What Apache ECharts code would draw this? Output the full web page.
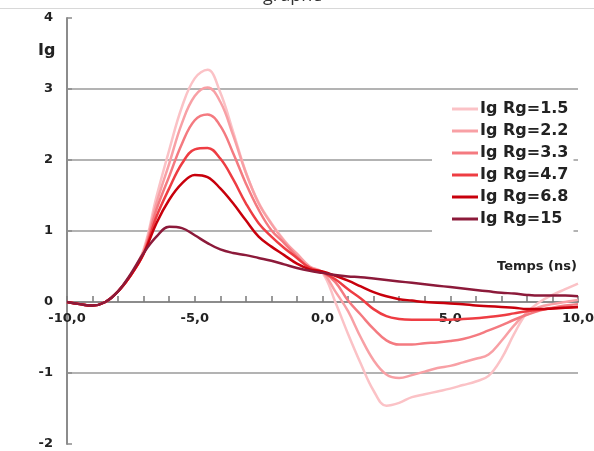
<!DOCTYPE html>
<html>
<head>
<meta charset="utf-8">
<script src="https://cdn.jsdelivr.net/npm/echarts@6/dist/echarts.min.js"></script>
<style>html,body{margin:0;padding:0;background:#fff}#c{width:594px;height:451px}</style>
</head>
<body>
<div id="c"></div>
<script>
const times = [-10,-9.5,-9,-8.5,-8,-7.5,-7,-6.5,-6,-5.5,-5,-4.5,-4,-3.5,-3,-2.5,-2,-1.5,-1,-0.5,0,0.5,1,1.5,2,2.5,3,3.5,4,4.5,5,5.5,6,6.5,7,7.5,8,8.5,9,9.5,10];
const seriesNames = ['Ig Rg=1.5','Ig Rg=2.2','Ig Rg=3.3','Ig Rg=4.7','Ig Rg=6.8','Ig Rg=15'];
const rg1_5 = [0,-0.03,-0.05,0,0.15,0.38,0.74,1.48,2.14,2.75,3.15,3.27,2.95,2.4,1.83,1.4,1.11,0.87,0.66,0.48,0.41,0.0,-0.45,-0.87,-1.25,-1.46,-1.42,-1.34,-1.3,-1.26,-1.22,-1.17,-1.12,-1.04,-0.8,-0.45,-0.15,0.0,0.1,0.18,0.26];
const rg2_2 = [0,-0.03,-0.05,0,0.15,0.38,0.72,1.39,1.95,2.52,2.9,3.02,2.82,2.35,1.82,1.39,1.1,0.86,0.68,0.5,0.42,0.15,-0.13,-0.5,-0.82,-1.02,-1.07,-1.03,-0.98,-0.93,-0.9,-0.85,-0.8,-0.74,-0.55,-0.33,-0.15,-0.07,-0.03,0.0,0.03];
const rg3_3 = [0,-0.03,-0.05,0,0.15,0.38,0.7,1.3,1.77,2.23,2.56,2.64,2.48,2.1,1.67,1.3,1.01,0.83,0.64,0.48,0.42,0.28,0.02,-0.18,-0.38,-0.54,-0.6,-0.6,-0.58,-0.57,-0.55,-0.52,-0.47,-0.4,-0.33,-0.25,-0.18,-0.12,-0.08,-0.05,-0.03];
const rg4_7 = [0,-0.03,-0.05,0,0.15,0.38,0.68,1.2,1.6,1.95,2.15,2.17,2.02,1.73,1.39,1.11,0.92,0.76,0.62,0.48,0.42,0.32,0.18,0.05,-0.1,-0.2,-0.24,-0.25,-0.25,-0.25,-0.25,-0.24,-0.23,-0.21,-0.19,-0.16,-0.13,-0.11,-0.09,-0.08,-0.07];
const rg6_8 = [0,-0.03,-0.05,0,0.15,0.38,0.68,1.11,1.44,1.67,1.79,1.76,1.6,1.39,1.15,0.92,0.78,0.66,0.54,0.46,0.43,0.37,0.3,0.22,0.14,0.08,0.04,0.02,0.0,-0.01,-0.02,-0.03,-0.05,-0.06,-0.07,-0.08,-0.1,-0.1,-0.09,-0.08,-0.07];
const rg15 = [0,-0.03,-0.05,0,0.15,0.4,0.69,0.92,1.06,1.04,0.94,0.83,0.74,0.69,0.66,0.62,0.58,0.53,0.48,0.44,0.41,0.38,0.36,0.35,0.33,0.31,0.29,0.27,0.25,0.23,0.21,0.19,0.17,0.15,0.13,0.12,0.1,0.09,0.09,0.09,0.08];
const allValues = [rg1_5, rg2_2, rg3_3, rg4_7, rg6_8, rg15];
const colors = ['#fbc2c6','#f8a0a5','#f47a80','#ee3d43','#c8000c','#8c1a3a'];

const FONT = '"DejaVu Sans", sans-serif';
const chart = echarts.init(document.getElementById('c'));
const bold = {fontFamily:FONT, fontWeight:'bold', color:'#222'};
chart.setOption({
  animation:false,
  color: colors,
  grid:{left:67, right:16, top:18, bottom:7, containLabel:false, outerBoundsMode:'none'},
  xAxis:[
    {type:'value', min:-10, max:10, interval:1,
     axisLine:{show:true, onZero:true, lineStyle:{color:'#8c8c8c', width:2}},
     axisTick:{show:true, inside:true, length:5, lineStyle:{color:'#7a7a7a', width:1.5}},
     minorTick:{show:false},
     axisLabel:{show:false},
     splitLine:{show:false}},
    {type:'value', min:-10, max:10, interval:1, offset:-142, position:'bottom',
     axisLine:{show:false, onZero:false},
     axisTick:{show:true, inside:true, length:6, lineStyle:{color:'#7a7a7a', width:1.5}},
     axisLabel:Object.assign({fontSize:13, margin:10, formatter:v => (v % 5 === 0) ? v.toFixed(1).replace('.', ',') : ''}, bold),
     splitLine:{show:false}}
  ],
  yAxis:{type:'value', min:-2, max:4, interval:1,
    axisLine:{show:true, onZero:false, lineStyle:{color:'#8c8c8c', width:2}},
    axisTick:{show:true, inside:true, length:5, lineStyle:{color:'#8c8c8c', width:1.5}},
    axisLabel:Object.assign({fontSize:13, margin:14}, bold),
    splitLine:{show:true, showMinLine:false, showMaxLine:false, lineStyle:{color:'#9a9a9a', width:1.5}}},
  legend:{orient:'vertical', left:432, top:95, padding:[5,5,5,20], backgroundColor:'#fff',
    icon:'rect', itemWidth:26, itemHeight:3, itemGap:4,
    textStyle:Object.assign({fontSize:16, lineHeight:18, padding:[0,0,0,-3]}, bold),
    data:seriesNames},
  graphic:[
    {type:'line', shape:{x1:0,y1:8.5,x2:594,y2:8.5}, style:{stroke:'#d8d8d8', lineWidth:1}},
    {type:'text', left:263, top:-13, style:{text:'graphe', font:'18px "Open Sans", sans-serif', fill:'#333'}},
    {type:'text', left:38, top:43, style:{text:'Ig', font:'bold 16px ' + FONT, fill:'#222'}},
    {type:'text', left:497, top:260, style:{text:'Temps (ns)', font:'bold 13px ' + FONT, fill:'#222'}}
  ],
  series: seriesNames.map((n, i) => ({
    name:n, type:'line', smooth:0.4, showSymbol:false, xAxisIndex:0,
    lineStyle:{width:2.5, color:colors[i]},
    data: times.map((t, j) => [t, allValues[i][j]])
  }))
});
</script>
</body>
</html>
